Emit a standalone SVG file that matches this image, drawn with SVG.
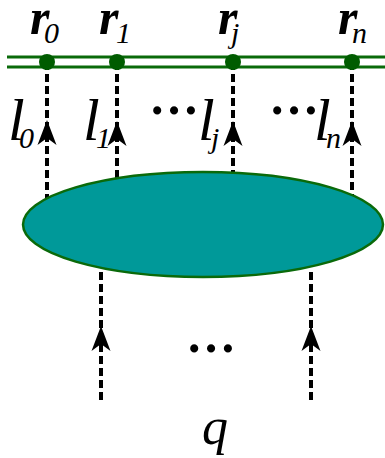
<svg xmlns="http://www.w3.org/2000/svg" width="385" height="458" viewBox="0 0 385 458">
<style>
.rail{stroke:#0a6a0a;stroke-width:3;fill:none}
.dot{fill:#005c00}
.dash{stroke:#000;stroke-width:4;stroke-dasharray:8 4;fill:none}
text{font-family:'Liberation Serif','Times New Roman',serif;font-style:italic;fill:#000}
.big{font-size:50px;font-weight:bold}
.l{font-size:60px}
.sub{font-size:30px}
.dots{font-size:50px;font-weight:bold;font-style:normal}
</style>
<defs>
<path id="ah" d="M0,0 L9.5,25 L0,18 L-9.5,25 Z" fill="#000"/>
</defs>
<rect width="385" height="458" fill="#fff"/>
<g id="connectors">
<line class="dash" x1="47" y1="62" x2="47" y2="198"/>
<line class="dash" x1="117" y1="62" x2="117" y2="178"/>
<line class="dash" x1="233" y1="62" x2="233" y2="173"/>
<line class="dash" x1="352" y1="62" x2="352" y2="195"/>
<line class="dash" x1="101" y1="272" x2="101" y2="403"/>
<line class="dash" x1="311" y1="272" x2="311" y2="403"/>
<use href="#ah" x="47" y="120"/>
<use href="#ah" x="117" y="121"/>
<use href="#ah" x="233" y="121"/>
<use href="#ah" x="352" y="121"/>
<use href="#ah" x="101" y="326"/>
<use href="#ah" x="311" y="326"/>
</g>
<g id="rail">
<line class="rail" x1="7" y1="57" x2="385" y2="57"/>
<line class="rail" x1="7" y1="67" x2="385" y2="67"/>
</g>
<g id="r0"><circle class="dot" cx="47" cy="62" r="8"/><text class="big" x="30" y="34">r</text><text class="sub" x="44" y="43">0</text></g>
<g id="r1"><circle class="dot" cx="117" cy="62" r="8"/><text class="big" x="99" y="34">r</text><text class="sub" x="116" y="43">1</text></g>
<g id="rj"><circle class="dot" cx="233" cy="62" r="8"/><text class="big" x="218" y="34">r</text><text class="sub" x="231" y="43">j</text></g>
<g id="rn"><circle class="dot" cx="352" cy="62" r="8"/><text class="big" x="338" y="34">r</text><text class="sub" x="352" y="43">n</text></g>
<g id="blob"><ellipse cx="203" cy="224.5" rx="180" ry="52.5" fill="#009999" stroke="#0a6a0a" stroke-width="2.5"/></g>
<g id="labels">
<text class="l" x="8" y="140">l</text><text class="sub" x="19" y="148">0</text>
<text class="l" x="83" y="140">l</text><text class="sub" x="96" y="148">1</text>
<text class="l" x="198" y="140">l</text><text class="sub" x="211" y="148">j</text>
<text class="l" x="314" y="140">l</text><text class="sub" x="326" y="148">n</text>
<text class="dots" x="149" y="114">…</text>
<text class="dots" x="269" y="114">…</text>
<text class="dots" x="186" y="352">…</text>
<text x="202" y="444" font-size="52">q</text>
</g>
</svg>
